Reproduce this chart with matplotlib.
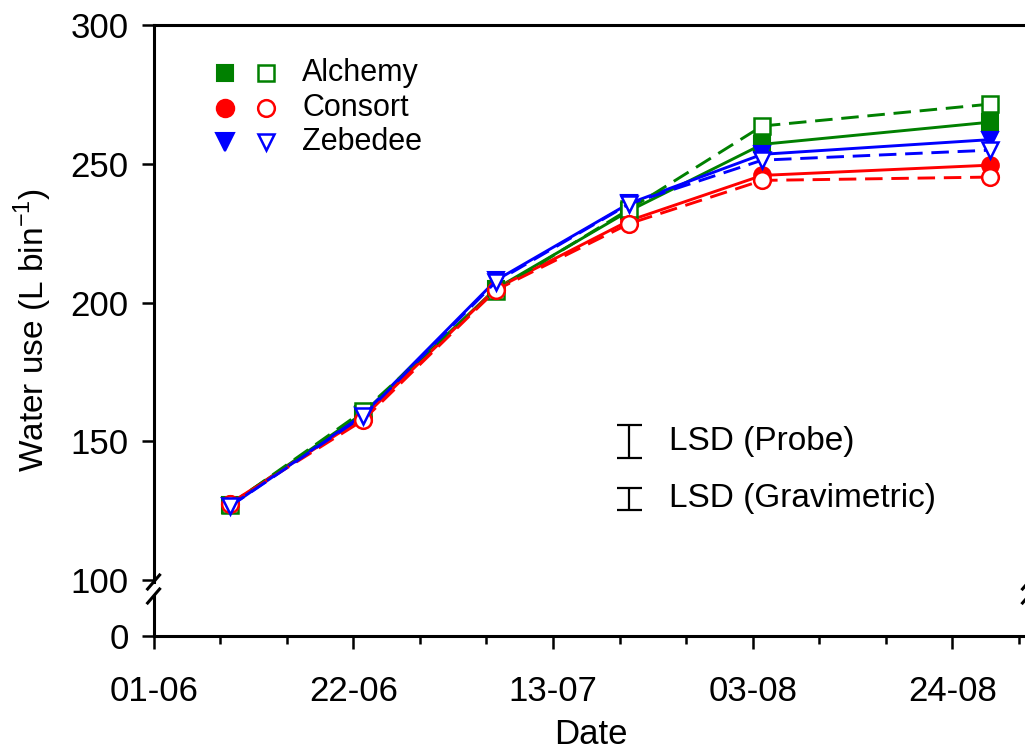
import datetime as dt
import matplotlib
matplotlib.use("Agg")
import matplotlib.pyplot as plt
import matplotlib.dates as mdates
import matplotlib.ticker as mticker
from matplotlib.lines import Line2D

plt.rcParams['font.family'] = ['Liberation Sans', 'DejaVu Sans']

# ---------------- data ----------------
dates = ["2015-06-09", "2015-06-23", "2015-07-07", "2015-07-21", "2015-08-04", "2015-08-28"]
cultivars = ["Alchemy", "Consort", "Zebedee"]
alchemy_probe = [127.0, 160.0, 205.0, 233.0, 257.0, 265.0]
alchemy_grav = [127.0, 160.8, 204.3, 233.6, 263.6, 271.5]
consort_probe = [127.5, 158.5, 205.0, 229.5, 245.8, 249.5]
consort_grav = [127.5, 157.5, 204.5, 228.4, 244.0, 245.2]
zebedee_probe = [126.5, 159.5, 208.0, 235.7, 253.4, 258.7]
zebedee_grav = [126.5, 159.0, 207.5, 235.5, 251.3, 254.9]
lsd_labels = ["LSD (Probe)", "LSD (Gravimetric)"]
lsd_values = [11.8, 7.8]
yticks_top = [100, 150, 200, 250, 300]
yticks_bottom = [0]
major_dates = ["2015-06-01", "2015-06-22", "2015-07-13", "2015-08-03", "2015-08-24"]

colors = {"Alchemy": "#008000", "Consort": "#ff0000", "Zebedee": "#0000ff"}
markers = {"Alchemy": "s", "Consort": "o", "Zebedee": "v"}
msizes = {"Alchemy": 11.5, "Consort": 12, "Zebedee": 12}
probe = {"Alchemy": alchemy_probe, "Consort": consort_probe, "Zebedee": zebedee_probe}
grav = {"Alchemy": alchemy_grav, "Consort": consort_grav, "Zebedee": zebedee_grav}

def d(s):
    return dt.datetime.strptime(s, "%Y-%m-%d")

x = [d(s) for s in dates]
xmin = d("2015-06-01")
xmax = xmin + dt.timedelta(days=92)

W, H = 1025, 749
fig = plt.figure(figsize=(W / 100, H / 100), dpi=100)

left_px, right_px = 153.6, 1028.5
top_px, topax_bottom_px = 25, 582
botax_top_px, botax_bottom_px = 596, 636

ax = fig.add_axes([left_px / W, 1 - topax_bottom_px / H, (right_px - left_px) / W,
                   (topax_bottom_px - top_px) / H])
axb = fig.add_axes([left_px / W, 1 - botax_bottom_px / H, (right_px - left_px) / W,
                    (botax_bottom_px - botax_top_px) / H])

px_per_unit = (580 - 25) / 200.0
ax.set_ylim(100 - (topax_bottom_px - 580) / px_per_unit, 300)
axb.set_ylim(0, 10)
for a in (ax, axb):
    a.set_xlim(xmin, xmax)

lw = 2.1
for c in cultivars:
    col = colors[c]
    ax.plot(x, probe[c], color=col, lw=lw, marker=markers[c], ms=msizes[c],
            mfc=col, mec=col, mew=1.5, zorder=3)
    ax.plot(x, grav[c], color=col, lw=lw, ls=(0, (6, 3)), marker=markers[c], ms=msizes[c],
            mfc='white', mec=col, mew=1.8, zorder=4)

# LSD bars
lsd_x = d("2015-07-21")
lsd_centers = [150.0, 129.2]
for lab, val, yc in zip(lsd_labels, lsd_values, lsd_centers):
    ax.errorbar([lsd_x], [yc], yerr=[[val / 2], [val / 2]], fmt='none', ecolor='black',
                elinewidth=1.6, capsize=9, capthick=1.6, zorder=5)
    ax.annotate(lab, xy=(lsd_x, yc), xytext=(29, 0), textcoords='offset points',
                ha='left', va='center', fontsize=24)

# legend (manual)
leg_rows_px = [73, 108, 142]
ax_h = topax_bottom_px - top_px
ax_w = right_px - left_px
for c, ypx in zip(cultivars, leg_rows_px):
    yf = (topax_bottom_px - ypx) / ax_h
    col = colors[c]
    ax.plot([(225 - left_px) / ax_w], [yf], transform=ax.transAxes, marker=markers[c],
            ms=msizes[c] + 0.5, mfc=col, mec=col, mew=1.5, ls='none', clip_on=False)
    ax.plot([(266 - left_px) / ax_w], [yf], transform=ax.transAxes, marker=markers[c],
            ms=msizes[c], mfc='white', mec=col, mew=1.8, ls='none', clip_on=False)
    ax.text((302 - left_px) / ax_w, yf, c, transform=ax.transAxes, ha='left',
            va='center', fontsize=22)

# spines and ticks
for a in (ax, axb):
    for s in a.spines.values():
        s.set_linewidth(2.2)
    a.spines['right'].set_visible(False)
    a.tick_params(axis='both', which='both', direction='out', width=1.8, labelsize=25,
                  colors='black')
ax.spines['bottom'].set_visible(False)
axb.spines['top'].set_visible(False)
ax.set_yticks(yticks_top)
axb.set_yticks(yticks_bottom)
ax.tick_params(axis='y', length=9, pad=9)
axb.tick_params(axis='y', length=9, pad=9)
ax.tick_params(axis='x', which='both', bottom=False, labelbottom=False)

axb.set_xticks([d(s) for s in major_dates])
axb.xaxis.set_major_formatter(mdates.DateFormatter('%d-%m'))
axb.xaxis.set_minor_locator(mticker.FixedLocator(
    [mdates.date2num(xmin + dt.timedelta(days=7 * k)) for k in range(14)]))
axb.tick_params(axis='x', which='major', length=9, pad=19)
axb.tick_params(axis='x', which='minor', length=6)

axb.set_xlabel('Date', fontsize=25, labelpad=7)
fig.text(33 / W, 1 - 330 / H, 'Water use (L bin$^{\\mathregular{-1}}$)', rotation=90,
         ha='center', va='center', fontsize=24)

# axis break marks
def slash(xp, yp):
    fig.add_artist(Line2D([(xp - 6) / W, (xp + 6) / W], [1 - (yp + 7) / H, 1 - (yp - 7) / H],
                          transform=fig.transFigure, color='black', lw=2.2))

for xp in (left_px, right_px):
    slash(xp, topax_bottom_px)
    slash(xp, botax_top_px)

fig.savefig('out.png', dpi=100)
